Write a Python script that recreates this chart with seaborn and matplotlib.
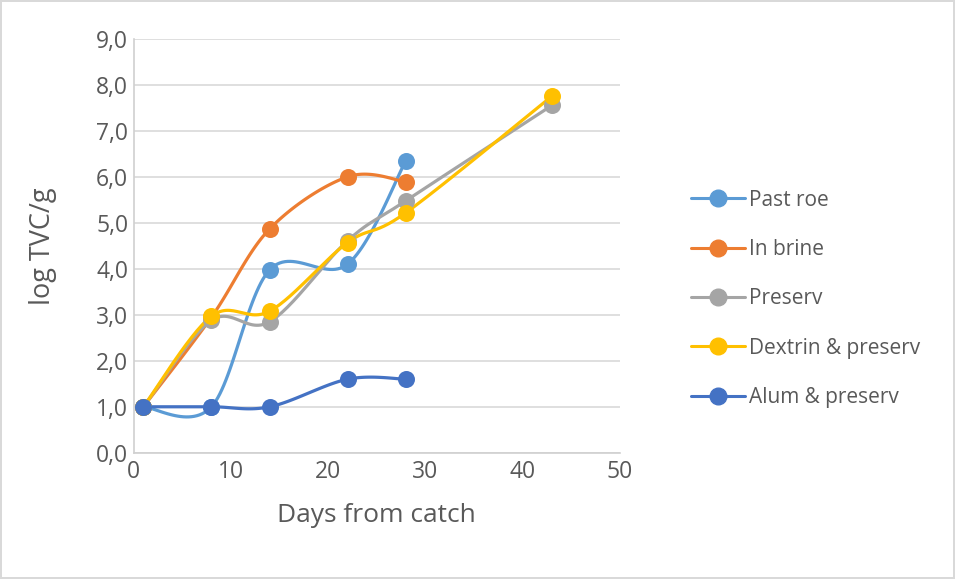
import numpy as np
import pandas as pd
import matplotlib as mpl
import matplotlib.pyplot as plt
from matplotlib.lines import Line2D
from matplotlib.ticker import FuncFormatter, MultipleLocator
import seaborn as sns

# data
series = ['Past roe', 'In brine', 'Preserv', 'Dextrin & preserv', 'Alum & preserv']
days_short = [1, 8, 14, 22, 28]
days_long = [1, 8, 14, 22, 28, 43]
past_roe = [1.0, 1.0, 3.98, 4.10, 6.35]
in_brine = [1.0, 2.95, 4.87, 6.0, 5.89]
preserv = [1.0, 2.88, 2.85, 4.61, 5.48, 7.55]
dextrin = [1.0, 2.97, 3.08, 4.57, 5.22, 7.75]
alum = [1.0, 1.0, 1.0, 1.60, 1.60]

colors = ['#5B9BD5', '#ED7D31', '#A5A5A5', '#FFC000', '#4472C4']

sns.set_theme(style="white")
plt.rcParams['font.family'] = ['Open Sans', 'DejaVu Sans']
gray_txt = '#595959'

rows = []
for name, xs, ys in zip(series,
                        [days_short, days_short, days_long, days_long, days_short],
                        [past_roe, in_brine, preserv, dextrin, alum]):
    for x, y in zip(xs, ys):
        rows.append({'series': name, 'day': x, 'tvc': y})
df = pd.DataFrame(rows)


def smooth(xs, ys, n=30):
    # Excel-style smoothed line: cubic Bezier with Catmull-Rom control points
    p = np.column_stack([xs, ys]).astype(float)
    p_ext = np.vstack([p[0], p, p[-1]])
    out = []
    for i in range(len(p) - 1):
        p0, p1, p2, p3 = p_ext[i], p_ext[i + 1], p_ext[i + 2], p_ext[i + 3]
        c1 = p1 + (p2 - p0) / 6
        c2 = p2 - (p3 - p1) / 6
        t = np.linspace(0, 1, n)[:, None]
        seg = ((1 - t) ** 3) * p1 + 3 * ((1 - t) ** 2) * t * c1 + 3 * (1 - t) * t ** 2 * c2 + t ** 3 * p2
        out.append(seg if i == 0 else seg[1:])
    return np.vstack(out)


fig = plt.figure(figsize=(9.55, 5.79), dpi=100)
fig.patch.set_edgecolor('#d9d9d9')
fig.patch.set_linewidth(1.5)
ax = fig.add_axes([0.140, 0.218, 0.509, 0.715])

for name, c in zip(series, colors):
    sub = df[df['series'] == name]
    curve = smooth(sub['day'].values, sub['tvc'].values)
    cdf = pd.DataFrame({'day': curve[:, 0], 'tvc': curve[:, 1]})
    sns.lineplot(data=cdf, x='day', y='tvc', sort=False, estimator=None,
                 color=c, linewidth=2.3, ax=ax, zorder=3)
    sns.scatterplot(data=sub, x='day', y='tvc', color=c, s=150,
                    edgecolor=c, linewidth=0, ax=ax, zorder=4)

ax.set_xlim(0, 50)
ax.set_ylim(0, 9)
ax.xaxis.set_major_locator(MultipleLocator(10))
ax.yaxis.set_major_locator(MultipleLocator(1))
ax.yaxis.set_major_formatter(FuncFormatter(lambda v, _: f'{v:.1f}'.replace('.', ',')))
ax.grid(axis='y', color='#d9d9d9', linewidth=1.2)
ax.set_axisbelow(True)
for s in ['top', 'right']:
    ax.spines[s].set_visible(False)
for s in ['left', 'bottom']:
    ax.spines[s].set_color('#d0d0d0')
    ax.spines[s].set_linewidth(1.2)
ax.tick_params(axis='both', labelsize=16.5, colors=gray_txt, length=0)
ax.tick_params(axis='y', pad=4)
ax.tick_params(axis='x', pad=5)
ax.set_xlabel('Days from catch', fontsize=19, color=gray_txt, labelpad=14)
ax.set_ylabel('log TVC/g', fontsize=19.5, color=gray_txt, labelpad=28)

handles = [Line2D([], [], color=c, linewidth=2.2, marker='o', markersize=12) for c in colors]
fig.legend(handles, series, loc='upper left', bbox_to_anchor=(0.704, 0.705),
           frameon=False, fontsize=15, labelcolor=gray_txt, handlelength=2.6,
           handletextpad=0.2, labelspacing=1.36)

fig.savefig('out.png', dpi=100)
